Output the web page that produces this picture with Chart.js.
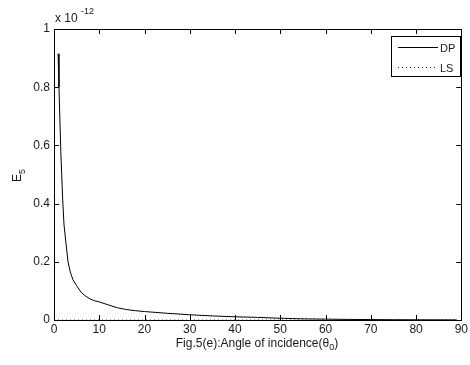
<!DOCTYPE html>
<html>
<head>
<meta charset="utf-8">
<script src="https://cdn.jsdelivr.net/npm/chart.js@4.4.1/dist/chart.umd.min.js"></script>
<style>
  html, body { margin: 0; padding: 0; background: #fff; }
  #wrap { width: 470px; height: 365px; }
</style>
</head>
<body>
<div id="wrap"><canvas id="chart" width="470" height="365"></canvas></div>
<script>
// angle of incidence (degrees)
const theta = [0.9, 1.1, 1.3, 1.5, 1.7, 1.9, 2.2, 2.6, 3.1, 3.6, 4.2, 5, 6, 7, 8, 9, 10, 12, 14, 16, 18, 20,
  25, 30, 35, 40, 45, 50, 55, 60, 65, 70, 75, 80, 85, 89];
// E5 for DP, in units of 1e-12
const dpValues = [0.915, 0.80, 0.69, 0.58, 0.50, 0.42, 0.33, 0.27, 0.20, 0.165, 0.138, 0.118, 0.095, 0.082,
  0.072, 0.066, 0.062, 0.052, 0.042, 0.036, 0.032, 0.029, 0.023, 0.018, 0.014, 0.011, 0.009, 0.006,
  0.004, 0.003, 0.002, 0.0015, 0.001, 0.0007, 0.0005, 0.0004];
// LS stays at zero on this scale
const lsTheta = [0, 89];
const lsValues = [0, 0];
const xTicks = [0, 10, 20, 30, 40, 50, 60, 70, 80, 90];
const yTicks = [0, 0.2, 0.4, 0.6, 0.8, 1];
const seriesNames = ['DP', 'LS'];
const exponent = '-12';

const FONT = '"Liberation Sans", Arial, sans-serif';
const TXT = '#1a1a1a';

const dp = theta.map((t, i) => ({ x: t, y: dpValues[i] }));
const ls = lsTheta.map((t, i) => ({ x: t, y: lsValues[i] }));

// box, inward ticks, legend and labels in the MATLAB look
const decor = {
  id: 'decor',
  afterDraw(chart) {
    const ctx = chart.ctx;
    const a = chart.chartArea;
    const xs = chart.scales.x, ys = chart.scales.y;
    ctx.save();
    ctx.strokeStyle = '#000';
    ctx.lineWidth = 1;
    ctx.strokeRect(Math.round(a.left) + 0.5, Math.round(a.top) + 0.5,
      Math.round(a.right - a.left), Math.round(a.bottom - a.top));

    const tl = 5;
    ctx.beginPath();
    xTicks.forEach(v => {
      const px = Math.round(xs.getPixelForValue(v)) + 0.5;
      ctx.moveTo(px, a.bottom); ctx.lineTo(px, a.bottom - tl);
      ctx.moveTo(px, a.top); ctx.lineTo(px, a.top + tl);
    });
    yTicks.forEach(v => {
      const py = Math.round(ys.getPixelForValue(v)) + 0.5;
      ctx.moveTo(a.left, py); ctx.lineTo(a.left + tl, py);
      ctx.moveTo(a.right, py); ctx.lineTo(a.right - tl, py);
    });
    ctx.stroke();

    // exponent above the y axis
    ctx.fillStyle = TXT;
    ctx.textBaseline = 'alphabetic';
    ctx.textAlign = 'left';
    ctx.font = '12px ' + FONT;
    ctx.fillText('x 10', 55, 22);
    ctx.font = '9px ' + FONT;
    ctx.fillText(exponent, 81, 14);

    // y title E5
    ctx.save();
    ctx.translate(17, 176);
    ctx.rotate(-Math.PI / 2);
    ctx.font = '12px ' + FONT;
    ctx.textAlign = 'left';
    ctx.fillText('E', -6, 4);
    ctx.font = '9px ' + FONT;
    ctx.fillText('5', 2, 8);
    ctx.restore();

    // x title with subscript
    const t1 = 'Fig.5(e):Angle of incidence(θ';
    ctx.font = '12px ' + FONT;
    const w1 = ctx.measureText(t1).width;
    ctx.font = '9px ' + FONT;
    const w2 = ctx.measureText('0').width;
    ctx.font = '12px ' + FONT;
    const w3 = ctx.measureText(')').width;
    const x0 = 257 - (w1 + w2 + w3) / 2;
    const by = 347;
    ctx.fillText(t1, x0, by);
    ctx.font = '9px ' + FONT;
    ctx.fillText('0', x0 + w1, by + 3);
    ctx.font = '12px ' + FONT;
    ctx.fillText(')', x0 + w1 + w2, by);

    // legend
    const lx = 391, ly = 36, lw = 69, lh = 40;
    ctx.fillStyle = '#fff';
    ctx.fillRect(lx, ly, lw, lh);
    ctx.strokeStyle = '#000';
    ctx.strokeRect(lx + 0.5, ly + 0.5, lw, lh);
    chart.data.datasets.forEach((ds, i) => {
      const yy = 47.5 + i * 20;
      ctx.beginPath();
      ctx.strokeStyle = ds.borderColor;
      ctx.lineWidth = 1;
      ctx.setLineDash(ds.borderDash || []);
      ctx.moveTo(398, yy); ctx.lineTo(438, yy);
      ctx.stroke();
      ctx.setLineDash([]);
      ctx.fillStyle = TXT;
      ctx.font = '11px ' + FONT;
      ctx.textBaseline = 'middle';
      ctx.fillText(seriesNames[i], 440, yy + 1);
    });
    ctx.restore();
  }
};

new Chart(document.getElementById('chart'), {
  type: 'scatter',
  data: {
    datasets: [{
      label: seriesNames[0],
      data: dp,
      showLine: true,
      borderColor: '#000',
      borderWidth: 1,
      pointRadius: 0,
      tension: 0
    }, {
      label: seriesNames[1],
      data: ls,
      showLine: true,
      borderColor: '#333',
      borderWidth: 1,
      borderDash: [1, 3],
      pointRadius: 0
    }]
  },
  options: {
    responsive: false,
    animation: false,
    events: [],
    layout: { padding: { top: 29, right: 7, left: 0, bottom: 0 } },
    plugins: { legend: { display: false }, tooltip: { enabled: false } },
    scales: {
      x: {
        type: 'linear',
        min: 0, max: 90,
        afterBuildTicks: s => { s.ticks = xTicks.map(v => ({ value: v })); },
        afterFit: s => { s.height = 45; },
        grid: { display: false, drawTicks: false },
        border: { display: false },
        ticks: { color: TXT, font: { family: FONT, size: 12 }, padding: 2, maxRotation: 0 }
      },
      y: {
        type: 'linear',
        min: 0, max: 1,
        afterBuildTicks: s => { s.ticks = yTicks.map(v => ({ value: v })); },
        afterFit: s => { s.width = 54; },
        grid: { display: false, drawTicks: false },
        border: { display: false },
        ticks: {
          color: TXT, font: { family: FONT, size: 12 }, padding: 4,
          callback: v => String(Math.round(v * 10) / 10)
        }
      }
    }
  },
  plugins: [decor]
});
</script>
</body>
</html>
